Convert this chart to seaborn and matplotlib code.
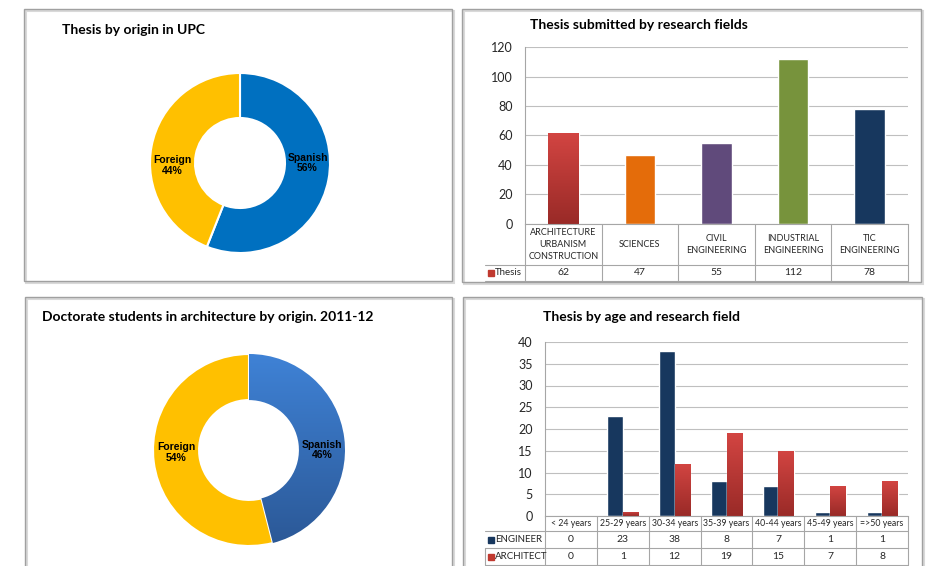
import numpy as np
import pandas as pd
import matplotlib
matplotlib.use("Agg")
import matplotlib.pyplot as plt
import seaborn as sns
from matplotlib.patches import Rectangle
from matplotlib.colors import LinearSegmentedColormap

####################################################################################
## DATA
####################################################################################
origin_labels = ["Spanish", "Foreign"]
upc_origin = [56, 44]
arch_origin = [46, 54]

fields = ["ARCHITECTURE\nURBANISM\nCONSTRUCTION", "SCIENCES", "CIVIL\nENGINEERING",
          "INDUSTRIAL\nENGINEERING", "TIC\nENGINEERING"]
thesis = [62, 47, 55, 112, 78]

ages = ["< 24 years", "25-29 years", "30-34 years", "35-39 years",
        "40-44 years", "45-49 years", "=>50 years"]
engineer = [0, 23, 38, 8, 7, 1, 1]
architect = [0, 1, 12, 19, 15, 7, 8]

# colours
BLUE = "#0070C0"
YELLOW = "#FFC000"
RED = "#C0392F"
field_colors = [RED, "#E46C0A", "#604A7B", "#77933C", "#17375E"]
age_colors = {"ENGINEER": "#17375E", "ARCHITECT": RED}

####################################################################################
## SETUP
####################################################################################
sns.set_theme(style="white")
plt.rcParams["font.family"] = ["Lato", "DejaVu Sans"]

W, H = 927, 566
fig = plt.figure(figsize=(W / 100, H / 100), dpi=100)
fig.patch.set_facecolor("white")


def px_axes(x0, y0, x1, y1):
    # axes placed by pixel corners (top-left origin)
    return fig.add_axes([x0 / W, 1 - y1 / H, (x1 - x0) / W, (y1 - y0) / H])


def panel_box(x0, y0, x1, y1):
    fig.add_artist(Rectangle((x0 / W + 0.002, 1 - y1 / H - 0.003), (x1 - x0) / W, (y1 - y0) / H,
                             transform=fig.transFigure, fill=False, edgecolor="#D9D9D9", lw=1.5))
    fig.add_artist(Rectangle((x0 / W, 1 - y1 / H), (x1 - x0) / W, (y1 - y0) / H,
                             transform=fig.transFigure, fill=False, edgecolor="#A0A0A0", lw=1.0))


def gradient_fill(ax, patch, top, bottom, extent=None):
    if extent is None:
        bb = patch.get_bbox()
        extent = [bb.x0, bb.x1, bb.y0, bb.y1]
    xl, yl = ax.get_xlim(), ax.get_ylim()
    cmap = LinearSegmentedColormap.from_list("g", [bottom, top])
    grad = np.linspace(0, 1, 256).reshape(-1, 1)
    im = ax.imshow(grad, cmap=cmap, extent=extent, origin="lower", aspect="auto",
                   zorder=patch.get_zorder())
    im.set_clip_path(patch)
    patch.set_facecolor("none")
    ax.set_xlim(xl)
    ax.set_ylim(yl)


def donut(ax, values, colors, width):
    wedges, _ = ax.pie(values, colors=colors, startangle=90, counterclock=False, radius=1,
                       wedgeprops=dict(width=width, edgecolor="white", linewidth=1.5))
    r = 1 - width / 2
    for w, lab, v in zip(wedges, origin_labels, values):
        # excel puts the label on the ring's horizontal line, on the wedge's side
        side = np.sign(np.cos(np.deg2rad((w.theta1 + w.theta2) / 2)))
        ax.text(side * r, -0.03 if side < 0 else 0, f"{lab}\n{v}%", ha="center", va="center",
                fontsize=7.5, fontweight="bold", family=["Liberation Sans", "DejaVu Sans"],
                color="black", linespacing=1.1)
    ax.set_xlim(-1, 1)
    ax.set_ylim(-1, 1)
    ax.set_aspect("equal")
    ax.axis("off")
    return wedges


def style_bar_axes(ax, ymax, step):
    ax.set_ylim(0, ymax)
    ax.set_yticks(np.arange(0, ymax + 1, step))
    ax.yaxis.grid(True, color="#BFBFBF", lw=0.8)
    ax.set_axisbelow(True)
    for s in ["top", "right"]:
        ax.spines[s].set_visible(False)
    for s in ["left", "bottom"]:
        ax.spines[s].set_color("#A6A6A6")
        ax.spines[s].set_linewidth(0.8)
    ax.set_xticklabels([])
    ax.set_xlabel("")
    ax.set_ylabel("")
    ax.tick_params(axis="x", length=0)
    ax.tick_params(axis="y", length=0, labelsize=9, labelcolor="#262626", pad=9)


def data_table(ax, col_labels, rows, ax_px, row_px, legend_left_px, head_size):
    # ax_px = (left, top, right, bottom); row_px = boundaries below the axis
    left, top, right, bottom = ax_px
    ay = lambda py: (bottom - py) / (bottom - top)
    ax_x = lambda px: (px - left) / (right - left)
    xt = ax.get_xaxis_transform()
    n = len(col_labels)
    lc = "#A6A6A6"
    yb = [ay(p) for p in row_px]
    kw = dict(clip_on=False, color=lc, lw=0.8)
    for i in range(n + 1):
        ax.plot([i - 0.5, i - 0.5], [0, yb[-1]], transform=xt, **kw)
    lx = ax_x(legend_left_px)
    for y in yb:
        ax.plot([lx, 1], [y, y], transform=ax.transAxes, **kw)
    ax.plot([lx, lx], [yb[1], yb[-1]], transform=ax.transAxes, **kw)
    ym = (0 + yb[0]) / 2
    for i, lab in enumerate(col_labels):
        ax.text(i, ym, lab, transform=xt, ha="center", va="center", fontsize=head_size,
                color="#262626", linespacing=1.45)
    for k, (name, color, vals) in enumerate(rows):
        ym = (yb[k] + yb[k + 1]) / 2
        ax.plot([ax_x(legend_left_px + 6)], [ym], transform=ax.transAxes, marker="s", ms=4.5,
                color=color, clip_on=False, lw=0)
        ax.text(ax_x(legend_left_px + 10), ym, name, transform=ax.transAxes, ha="left",
                va="center", fontsize=7, color="#262626")
        for i, v in enumerate(vals):
            ax.text(i, ym, str(v), transform=xt, ha="center", va="center", fontsize=7.5,
                    color="#262626")


####################################################################################
## PANEL 1 - Thesis by origin in UPC
####################################################################################
panel_box(24, 9, 452, 281)
fig.text(62 / W, 1 - 30 / H, "Thesis by origin in UPC", fontsize=10, fontweight="bold",
         va="center", ha="left", color="black")
ax1 = px_axes(150, 73, 330, 253)
donut(ax1, upc_origin, [BLUE, YELLOW], 0.5)

####################################################################################
## PANEL 2 - Thesis submitted by research fields
####################################################################################
panel_box(462, 9, 921, 282)
fig.text(530 / W, 1 - 25 / H, "Thesis submitted by research fields", fontsize=10,
         fontweight="bold", va="center", ha="left", color="black")
ax2 = px_axes(525, 47, 908, 224)
sns.barplot(x=fields, y=thesis, hue=fields, palette=field_colors, width=0.4, saturation=1,
            legend=False, errorbar=None, ax=ax2)
style_bar_axes(ax2, 120, 20)
for p in ax2.patches:
    if matplotlib.colors.to_hex(p.get_facecolor()) == RED.lower():
        gradient_fill(ax2, p, "#D34542", "#992A27")
data_table(ax2, fields, [("Thesis", RED, thesis)], (525, 47, 908, 224), [265, 281], 485, 6.5)

####################################################################################
## PANEL 3 - Doctorate students in architecture by origin
####################################################################################
panel_box(25, 297, 452, 580)
fig.text(42 / W, 1 - 317 / H, "Doctorate students in architecture by origin. 2011-12",
         fontsize=10, fontweight="bold", va="center", ha="left", color="black")
ax3 = px_axes(153, 354, 345, 546)
w3 = donut(ax3, arch_origin, ["#3A78C9", YELLOW], 0.48)
gradient_fill(ax3, w3[0], "#3F82D6", "#2B5896", extent=[-1, 1, -1, 1])

####################################################################################
## PANEL 4 - Thesis by age and research field
####################################################################################
panel_box(463, 297, 922, 580)
fig.text(543 / W, 1 - 317 / H, "Thesis by age and research field", fontsize=10,
         fontweight="bold", va="center", ha="left", color="black")
ax4 = px_axes(545, 342, 908, 516)
age_df = pd.DataFrame({
    "age": ages * 2,
    "field": ["ENGINEER"] * len(ages) + ["ARCHITECT"] * len(ages),
    "thesis": engineer + architect,
})
sns.barplot(data=age_df, x="age", y="thesis", hue="field", palette=age_colors, width=0.6,
            saturation=1, legend=False, errorbar=None, ax=ax4)
style_bar_axes(ax4, 40, 5)
for p in ax4.patches:
    if p.get_height() > 0 and matplotlib.colors.to_hex(p.get_facecolor()) == RED.lower():
        gradient_fill(ax4, p, "#D34542", "#992A27")
data_table(ax4, ages, [("ENGINEER", age_colors["ENGINEER"], engineer),
                       ("ARCHITECT", RED, architect)],
           (545, 342, 908, 516), [531, 548, 565], 485, 6.3)

fig.savefig("out.png", dpi=100)
